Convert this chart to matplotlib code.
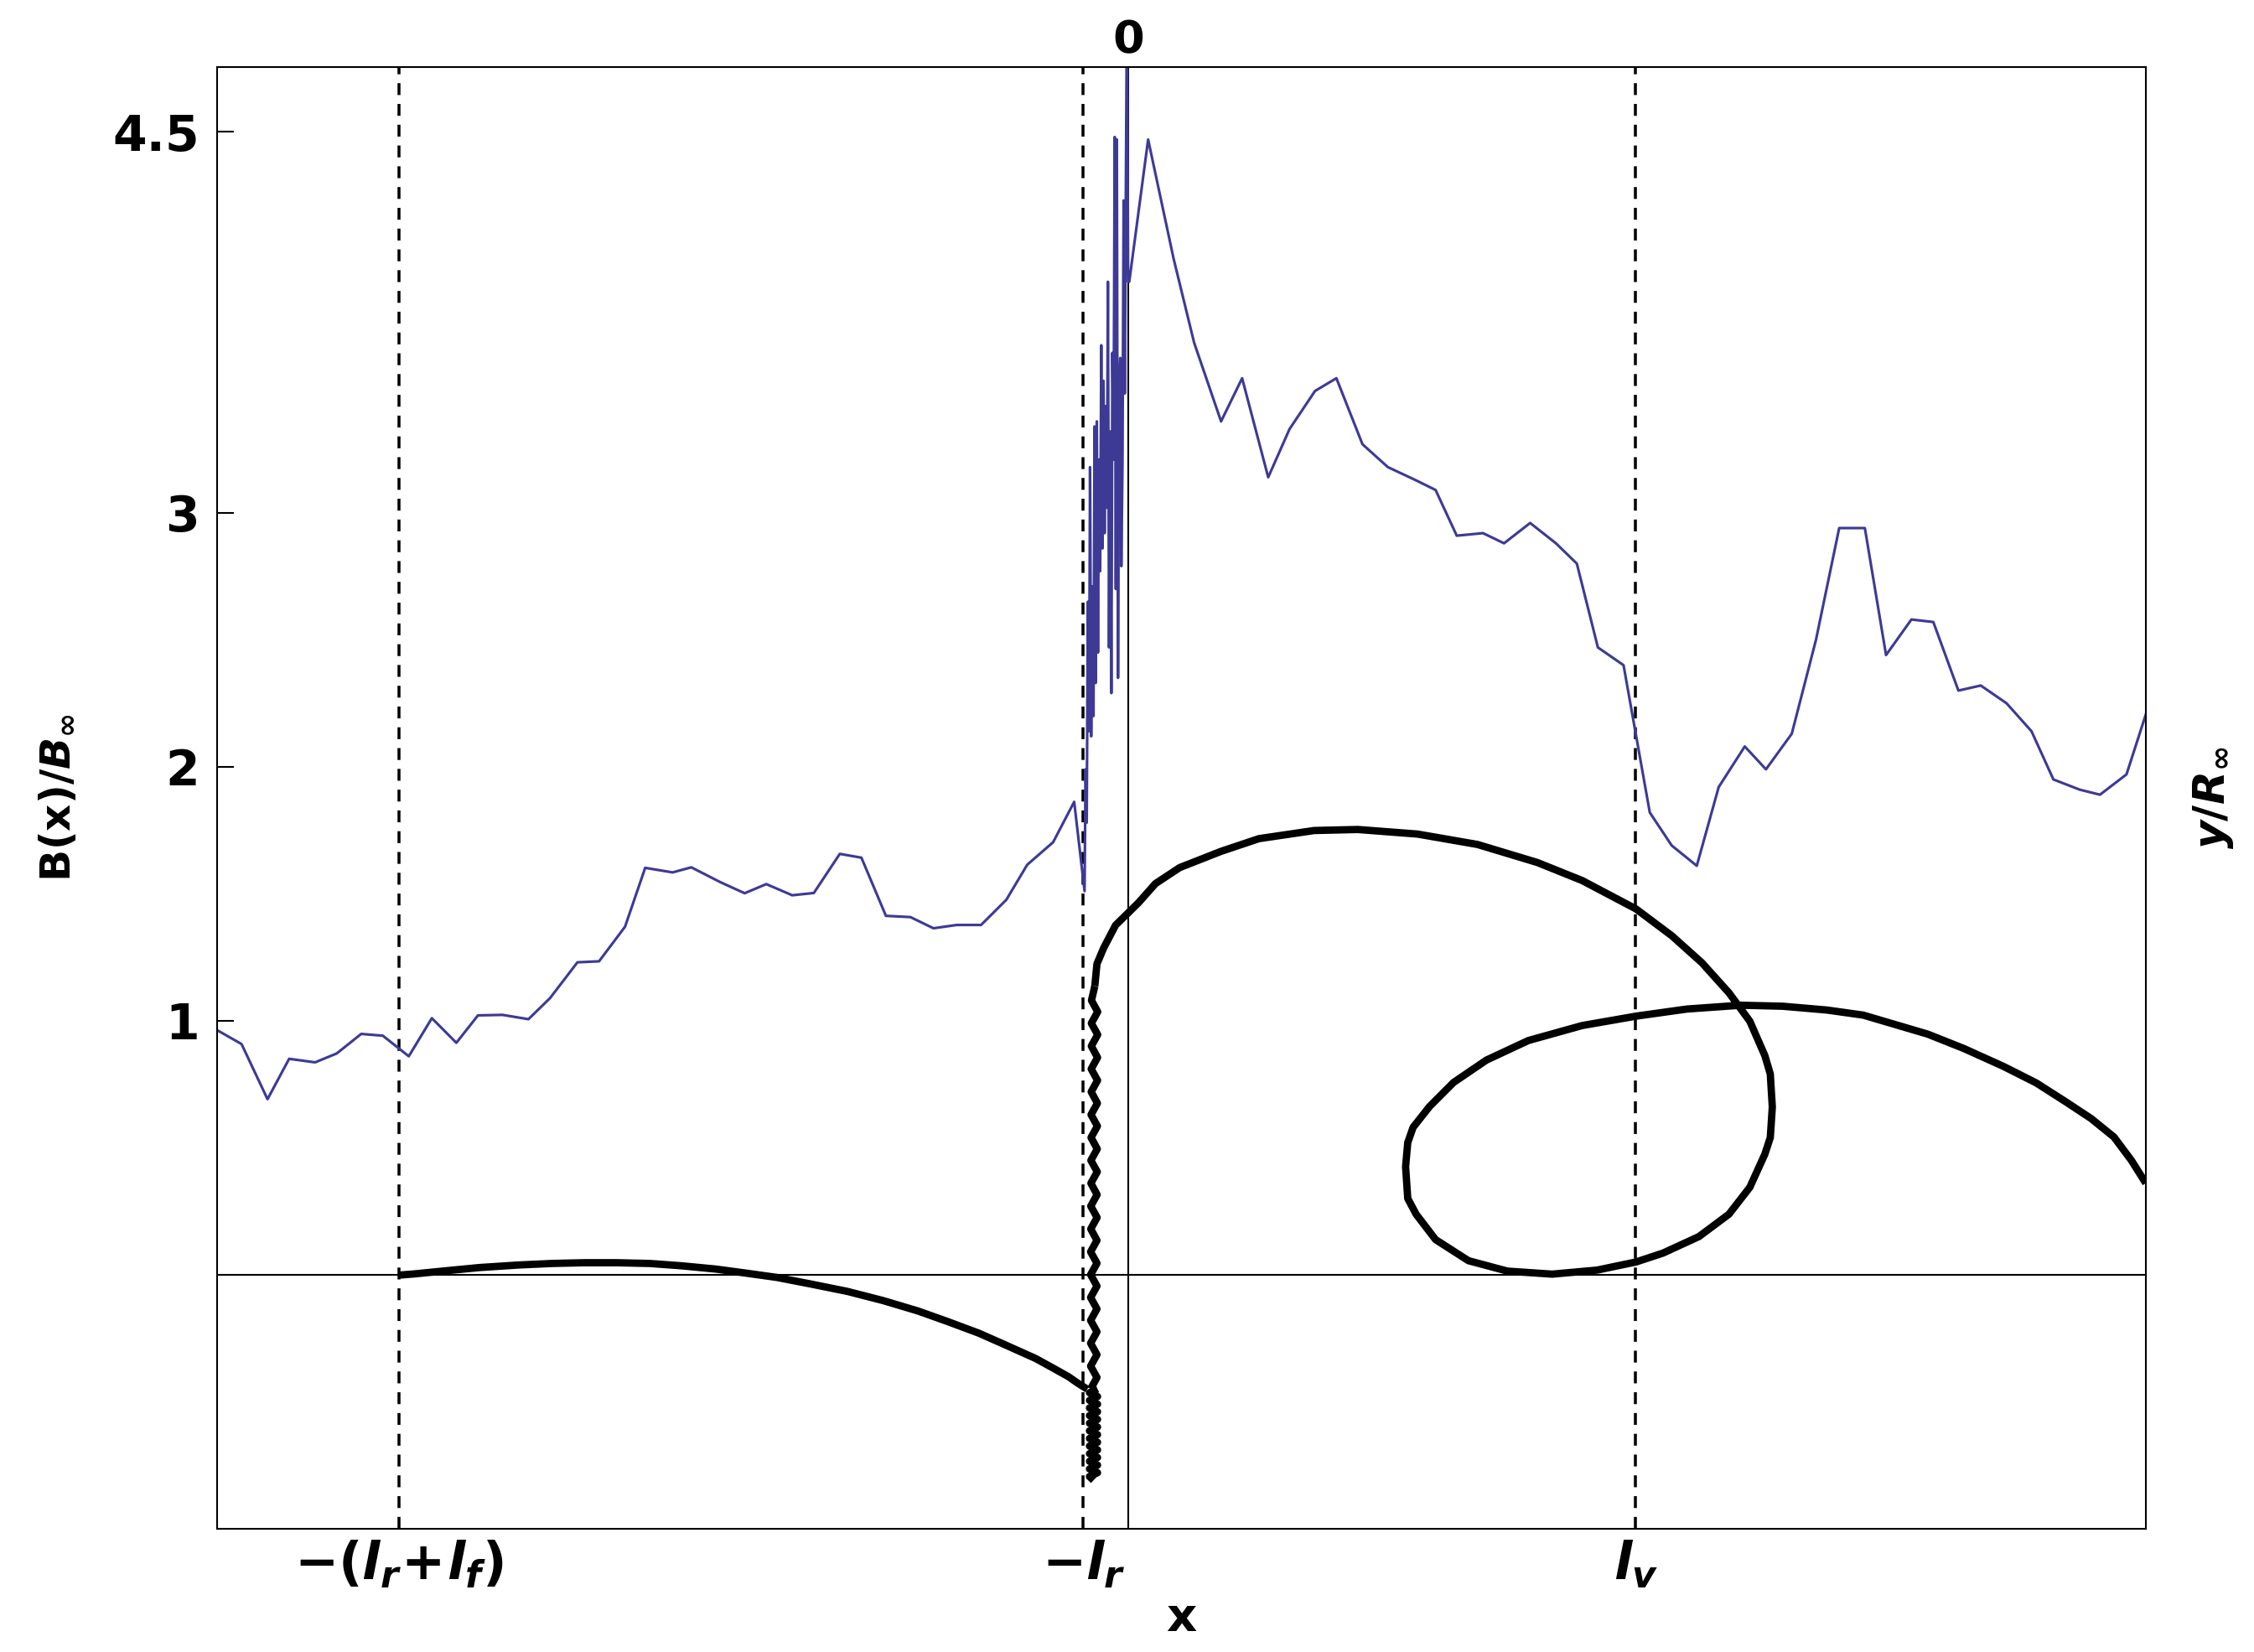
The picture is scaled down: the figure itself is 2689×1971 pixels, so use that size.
import matplotlib
matplotlib.use("Agg")
import matplotlib.pyplot as plt

plt.rcParams['font.family'] = 'DejaVu Sans'
plt.rcParams['font.weight'] = 'bold'
plt.rcParams['mathtext.fontset'] = 'custom'
plt.rcParams['mathtext.rm'] = 'DejaVu Sans:bold'
plt.rcParams['mathtext.bf'] = 'DejaVu Sans:bold'
plt.rcParams['mathtext.it'] = 'DejaVu Sans:italic:bold'
plt.rcParams['mathtext.fallback'] = 'stixsans'

# marked positions on the x axis
x_marks = [-5.06, -0.31, 3.52]
x_mark_labels = [r'$-(l_r\!+\!l_f)$', r'$-l_r$', r'$l_v$']
y_ticks = [1, 2, 3, 4.5]

# B(x)/B_inf  (blue)
b_x = [-6.32, -6.15, -5.97, -5.82, -5.64, -5.49, -5.32, -5.17, -4.99, -4.83,
       -4.66, -4.51, -4.34, -4.16, -4.01, -3.82, -3.67, -3.49, -3.35, -3.16,
       -3.03, -2.83, -2.66, -2.51, -2.33, -2.18, -2.00, -1.85, -1.68, -1.51,
       -1.35, -1.19, -1.02, -0.845, -0.70, -0.52, -0.374, -0.302,
       -0.295, -0.287, -0.279, -0.271, -0.264, -0.256, -0.248, -0.240, -0.233, -0.225,
       -0.217, -0.209, -0.202, -0.194, -0.186, -0.178, -0.171, -0.163, -0.155, -0.147,
       -0.140, -0.132, -0.124, -0.116, -0.109, -0.101, -0.093, -0.085, -0.078, -0.070,
       -0.062, -0.054, -0.047, -0.039, -0.031, -0.023, -0.016, -0.008, 0.0, 0.008,
       0.139, 0.316, 0.458, 0.645, 0.791, 0.972, 1.120, 1.297, 1.445, 1.626,
       1.802, 1.99, 2.133, 2.28, 2.462, 2.608, 2.789, 2.968, 3.113, 3.259,
       3.437, 3.619, 3.771, 3.945, 4.097, 4.278, 4.425, 4.604, 4.772, 4.933,
       5.111, 5.258, 5.434, 5.586, 5.760, 5.915, 6.094, 6.267, 6.419, 6.601,
       6.742, 6.926, 7.068]
b_y = [0.963, 0.908, 0.691, 0.850, 0.836, 0.871, 0.948, 0.941, 0.860, 1.010,
       0.913, 1.021, 1.023, 1.006, 1.089, 1.230, 1.234, 1.370, 1.602, 1.584,
       1.604, 1.546, 1.502, 1.538, 1.494, 1.503, 1.657, 1.642, 1.413, 1.408,
       1.364, 1.377, 1.377, 1.476, 1.614, 1.703, 1.862, 1.51,
       1.99, 1.78, 2.65, 2.14, 3.18, 2.12, 2.71, 2.20, 3.34, 2.33,
       3.36, 2.45, 3.21, 2.77, 3.66, 2.86, 3.52, 2.92, 3.42, 3.02,
       3.91, 2.47, 3.32, 2.29, 3.63, 3.21, 4.48, 2.70, 4.47, 2.35,
       3.51, 3.61, 2.79, 3.19, 4.23, 3.47, 4.23, 5.0, 3.91, 3.91,
       4.47, 4.00, 3.67, 3.36, 3.53, 3.14, 3.33, 3.48, 3.53, 3.27,
       3.18, 3.13, 3.09, 2.91, 2.92, 2.88, 2.96, 2.88, 2.80, 2.47,
       2.40, 1.82, 1.69, 1.61, 1.92, 2.08, 1.99, 2.13, 2.50, 2.94,
       2.94, 2.44, 2.58, 2.57, 2.30, 2.32, 2.25, 2.14, 1.95, 1.91,
       1.89, 1.97, 2.22]

# trajectory y/R_inf (black): first arc
arc_x = [-5.062, -4.95, -4.72, -4.5, -4.23, -4.0, -3.774, -3.55, -3.317, -3.1,
         -2.86, -2.65, -2.436, -2.2, -1.947, -1.7, -1.458, -1.25, -1.033, -0.85,
         -0.642, -0.52, -0.413, -0.35, -0.283]
arc_y = [-0.002, 0.003, 0.016, 0.028, 0.038, 0.044, 0.047, 0.047, 0.044, 0.035,
         0.022, 0.006, -0.011, -0.037, -0.066, -0.102, -0.143, -0.185, -0.231, -0.277,
         -0.330, -0.368, -0.402, -0.427, -0.451]

# dense oscillation below the arc end
block_x = [-0.212, -0.268, -0.212, -0.268, -0.212, -0.268, -0.212, -0.268,
           -0.212, -0.268, -0.212, -0.268, -0.212, -0.268, -0.212, -0.268,
           -0.212, -0.268, -0.212, -0.268, -0.212, -0.268, -0.212, -0.268, -0.24]
block_y = [-0.45, -0.465, -0.48, -0.495, -0.51, -0.525, -0.54, -0.555,
           -0.57, -0.585, -0.60, -0.615, -0.63, -0.645, -0.66, -0.675,
           -0.69, -0.705, -0.72, -0.735, -0.75, -0.765, -0.78, -0.795, -0.81]

# wiggle climbing at x ~ -l_r
wig_x = [-0.260, -0.216, -0.260, -0.216, -0.260, -0.216, -0.260, -0.216, -0.260,
         -0.216, -0.260, -0.216, -0.260, -0.216, -0.259, -0.215, -0.259, -0.215,
         -0.258, -0.214, -0.258, -0.214, -0.257, -0.213, -0.257, -0.213, -0.256,
         -0.212, -0.256, -0.212, -0.255, -0.211, -0.255, -0.211, -0.254, -0.231]
wig_y = [-0.45, -0.405, -0.36, -0.315, -0.27, -0.225, -0.18, -0.135, -0.09,
         -0.045, 0.0, 0.045, 0.09, 0.135, 0.18, 0.225, 0.27, 0.315,
         0.36, 0.405, 0.45, 0.495, 0.54, 0.585, 0.63, 0.675, 0.72,
         0.765, 0.81, 0.855, 0.9, 0.945, 0.99, 1.035, 1.08, 1.136]

# big arc and loop
loop_x = [-0.231, -0.216, -0.169, -0.087, 0.071, 0.190, 0.358, 0.645, 0.908, 1.291,
          1.593, 2.008, 2.424, 2.839, 3.150, 3.524, 3.773, 3.981, 4.168, 4.313,
          4.417, 4.455, 4.469, 4.455, 4.417, 4.313, 4.168, 3.960, 3.711, 3.524, 3.254,
          2.942, 2.631, 2.361, 2.133, 1.998, 1.940, 1.925, 1.940, 1.977, 2.091, 2.258,
          2.486, 2.777, 3.150, 3.524, 3.877, 4.251, 4.541, 4.849, 5.10, 5.548,
          5.80, 6.073, 6.30, 6.504, 6.68, 6.839, 6.96, 7.06]
loop_y = [1.136, 1.224, 1.287, 1.376, 1.464, 1.540, 1.603, 1.667, 1.717, 1.749,
          1.753, 1.735, 1.694, 1.623, 1.552, 1.440, 1.334, 1.228, 1.110, 0.998,
          0.863, 0.79, 0.66, 0.54, 0.474, 0.344, 0.238, 0.150, 0.085, 0.050, 0.018,
          0.002, 0.014, 0.055, 0.138, 0.238, 0.30, 0.425, 0.52, 0.580, 0.662, 0.757,
          0.845, 0.922, 0.981, 1.018, 1.046, 1.061, 1.057, 1.042, 1.022, 0.947,
          0.89, 0.820, 0.755, 0.681, 0.615, 0.542, 0.45, 0.36]

fig = plt.figure(figsize=(2689 / 300, 1971 / 300), dpi=300)
ax = fig.add_axes([0.0963, 0.0747, 0.8557, 0.8848])

ax.axhline(0, color='black', lw=0.5)
ax.axvline(0, color='black', lw=0.5)
for xm in x_marks:
    ax.axvline(xm, color='black', lw=0.85, dashes=(4, 3))

ax.plot(b_x, b_y, color='#3d3a96', lw=0.75)

traj = dict(color='black', lw=2.1, solid_capstyle='butt', solid_joinstyle='round')
ax.plot(arc_x, arc_y, **traj)
ax.plot(block_x, block_y, **traj)
ax.plot(wig_x, wig_y, **traj)
ax.plot(loop_x, loop_y, **traj)

ax.set_xlim(-6.32, 7.06)
ax.set_ylim(-1.0, 4.756)

ax.set_yticks(y_ticks)
ax.set_yticklabels(['1', '2', '3', '4.5'], fontsize=14, fontweight='bold')
ax.tick_params(axis='y', direction='in', length=4.8, width=0.5, pad=5)
ax.set_xticks(x_marks)
ax.set_xticklabels(x_mark_labels, fontsize=15)
ax.tick_params(axis='x', length=0, pad=3)

for sp in ax.spines.values():
    sp.set_linewidth(0.5)

ax.text(0, 1.018, '0', transform=ax.get_xaxis_transform(), ha='center', va='center',
        fontsize=13, fontweight='bold')

ax.set_xlabel('x', fontsize=13.5, fontweight='bold')
ax.xaxis.set_label_coords(0.5, -0.046)
ax.set_ylabel(r'B(x)/$B_{\infty}$', fontsize=12, fontweight='bold')
ax.yaxis.label.set_va('center')
ax.yaxis.set_label_coords(-0.0826, 0.5)
ax.text(1.035, 0.5, r'$y/R_{\infty}$', transform=ax.transAxes, rotation=90,
        ha='center', va='center', fontsize=12.5)

fig.savefig('out.png', dpi=300)
